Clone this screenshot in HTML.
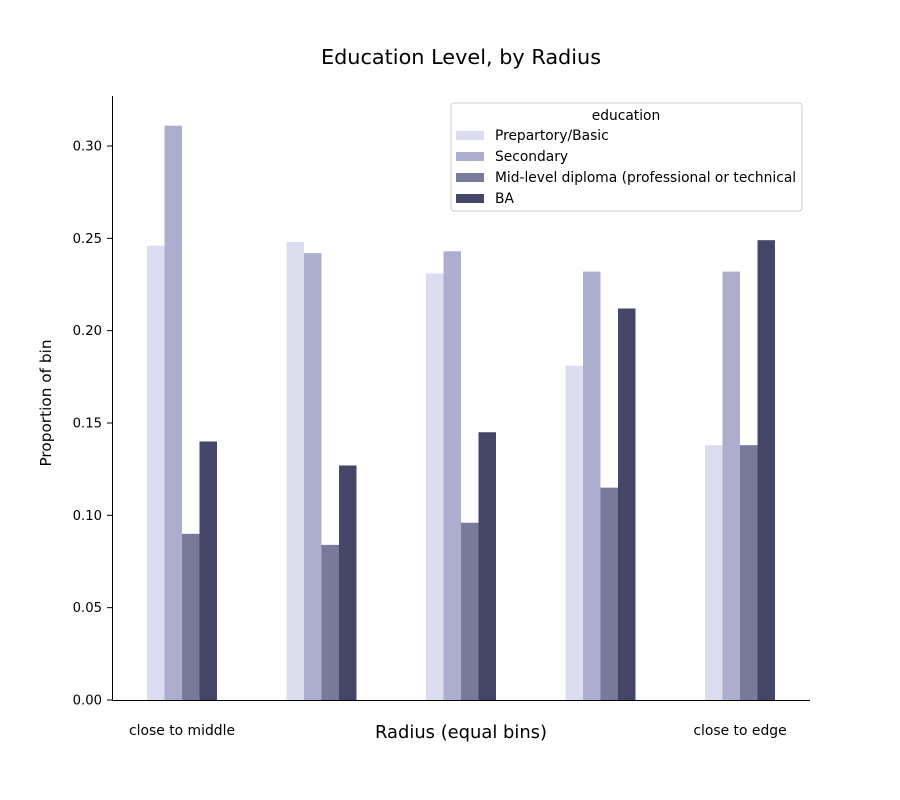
<!DOCTYPE html>
<html><head><meta charset="utf-8"><style>
body{margin:0;background:#fff;}
svg{display:block;font-family:"DejaVu Sans","Liberation Sans",sans-serif;}
</style></head><body>
<svg id="chart" width="900" height="800" viewBox="0 0 900 800">
<text x="461" y="64" font-size="20.8" text-anchor="middle" fill="#000">Education Level, by Radius</text>
<g id="bars"></g>
<g id="yaxis"></g>
<line x1="112.5" y1="96" x2="112.5" y2="700" stroke="#000" stroke-width="1"/>
<line x1="112" y1="700.5" x2="810" y2="700.5" stroke="#000" stroke-width="1"/>
<text x="51" y="403" font-size="15.3" text-anchor="middle" transform="rotate(-90 51 403)">Proportion of bin</text>
<text x="461" y="738" font-size="17.9" text-anchor="middle">Radius (equal bins)</text>
<text x="182" y="735" font-size="13.9" text-anchor="middle">close to middle</text>
<text x="740" y="735" font-size="13.9" text-anchor="middle">close to edge</text>
<g>
<rect x="451" y="103" width="351" height="108" rx="3" fill="#fff" fill-opacity="0.8" stroke="#ccc"/>
<text x="626" y="120" font-size="13.8" text-anchor="middle">education</text>
<g id="legend-entries"></g>
</g>
</svg>
<script>
const categories = ["bin1","bin2","bin3","bin4","bin5"];
const seriesNames = ["Prepartory/Basic","Secondary","Mid-level diploma (professional or technical","BA"];
const prepBasic = [0.246,0.248,0.231,0.181,0.138];
const secondary = [0.311,0.242,0.243,0.232,0.232];
const midLevel = [0.090,0.084,0.096,0.115,0.138];
const ba = [0.140,0.127,0.145,0.212,0.249];
const yTicks = [0,0.05,0.10,0.15,0.20,0.25,0.30];
const yTickLabels = ["0.00","0.05","0.10","0.15","0.20","0.25","0.30"];
const colors = ["#dcdcf0","#adadcf","#79799b","#454567"];
const series = [prepBasic, secondary, midLevel, ba];
const ns = "http://www.w3.org/2000/svg";
const y = v => 700 - v * (554/0.30);
const xCenter = i => 182 + i * 139.5;
const bw = 17.5;
const bars = document.getElementById("bars");
series.forEach((s, si) => {
  s.forEach((v, ci) => {
    const r = document.createElementNS(ns, "rect");
    r.setAttribute("x", xCenter(ci) - 2*bw + si*bw);
    r.setAttribute("y", y(v));
    r.setAttribute("width", bw);
    r.setAttribute("height", 700 - y(v));
    r.setAttribute("fill", colors[si]);
    
    
    bars.appendChild(r);
  });
});
const ya = document.getElementById("yaxis");
yTicks.forEach((t, i) => {
  const l = document.createElementNS(ns, "line");
  l.setAttribute("x1", 107); l.setAttribute("x2", 112);
  l.setAttribute("y1", y(t)); l.setAttribute("y2", y(t));
  l.setAttribute("stroke", "#000");
  
  
  ya.appendChild(l);
  const tx = document.createElementNS(ns, "text");
  tx.setAttribute("x", 102); tx.setAttribute("y", y(t) + 4.5);
  tx.setAttribute("font-size", "13.2"); tx.setAttribute("text-anchor", "end");
  tx.textContent = yTickLabels[i];
  
  
  ya.appendChild(tx);
});
const lg = document.getElementById("legend-entries");
seriesNames.forEach((n, i) => {
  const cy = 135 + i * 21;
  const r = document.createElementNS(ns, "rect");
  r.setAttribute("x", 456); r.setAttribute("y", cy - 4);
  r.setAttribute("width", 28); r.setAttribute("height", 9);
  r.setAttribute("fill", colors[i]);
  
  
  lg.appendChild(r);
  const t = document.createElementNS(ns, "text");
  t.setAttribute("x", 495); t.setAttribute("y", cy + 5);
  t.setAttribute("font-size", "13.8");
  t.textContent = n;
  
  
  lg.appendChild(t);
});
</script>
</body></html>
